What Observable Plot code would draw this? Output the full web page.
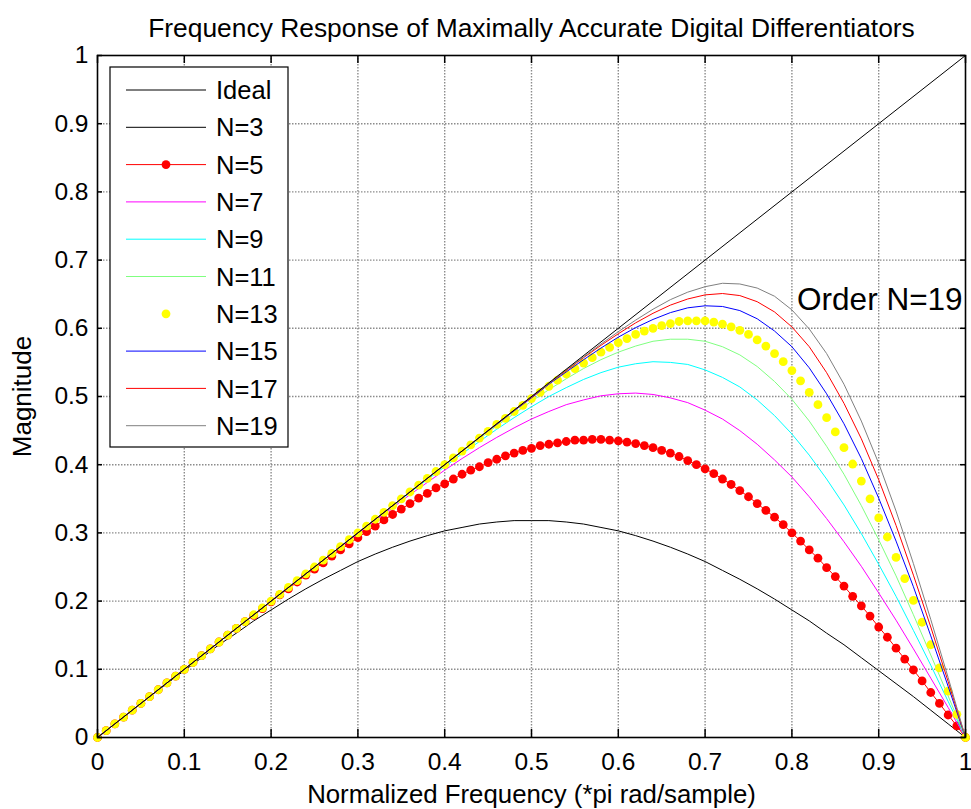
<!DOCTYPE html>
<html>
<head>
<meta charset="utf-8">
<script src="https://cdn.jsdelivr.net/npm/d3@7"></script>
<script src="https://cdn.jsdelivr.net/npm/@observablehq/plot@0.6"></script>
<style>
  body { margin: 0; background: #fff; }
  #chart svg { display: block; }
</style>
</head>
<body>
<div id="chart"></div>
<script>
// Frequency grids (normalized frequency, *pi rad/sample)
const freqFine = [0,0.01,0.02,0.03,0.04,0.05,0.06,0.07,0.08,0.09,
  0.10,0.11,0.12,0.13,0.14,0.15,0.16,0.17,0.18,0.19,
  0.20,0.21,0.22,0.23,0.24,0.25,0.26,0.27,0.28,0.29,
  0.30,0.31,0.32,0.33,0.34,0.35,0.36,0.37,0.38,0.39,
  0.40,0.41,0.42,0.43,0.44,0.45,0.46,0.47,0.48,0.49,
  0.50,0.51,0.52,0.53,0.54,0.55,0.56,0.57,0.58,0.59,
  0.60,0.61,0.62,0.63,0.64,0.65,0.66,0.67,0.68,0.69,
  0.70,0.71,0.72,0.73,0.74,0.75,0.76,0.77,0.78,0.79,
  0.80,0.81,0.82,0.83,0.84,0.85,0.86,0.87,0.88,0.89,
  0.90,0.91,0.92,0.93,0.94,0.95,0.96,0.97,0.98,0.99,1.00];
const freqCoarse = [0,0.02,0.04,0.06,0.08,0.10,0.12,0.14,0.16,0.18,
  0.20,0.22,0.24,0.26,0.28,0.30,0.32,0.34,0.36,0.38,
  0.40,0.42,0.44,0.46,0.48,0.50,0.52,0.54,0.56,0.58,
  0.60,0.62,0.64,0.66,0.68,0.70,0.72,0.74,0.76,0.78,
  0.80,0.82,0.84,0.86,0.88,0.90,0.92,0.94,0.96,0.98,1.00];
const freqIdeal = [0, 1];

// Magnitude responses
const magIdeal = [0, 1];
const magN3 = [0,0.020,0.040,0.060,0.079,0.098,0.117,0.136,0.153,0.171,
  0.187,0.203,0.218,0.232,0.245,0.258,0.269,0.279,0.288,0.296,
  0.303,0.308,0.313,0.316,0.318,0.318,0.318,0.316,0.313,0.308,
  0.303,0.296,0.288,0.279,0.269,0.258,0.245,0.232,0.218,0.203,
  0.187,0.171,0.153,0.136,0.117,0.098,0.079,0.060,0.040,0.020,0];
const magN5 = [0,0.010,0.020,0.030,0.040,0.050,0.060,0.070,0.080,0.090,
  0.100,0.110,0.120,0.130,0.140,0.150,0.160,0.170,0.179,0.189,
  0.199,0.209,0.218,0.228,0.238,0.247,0.256,0.266,0.275,0.284,
  0.293,0.302,0.310,0.319,0.327,0.335,0.343,0.351,0.358,0.366,
  0.372,0.379,0.386,0.392,0.397,0.403,0.408,0.413,0.417,0.421,
  0.424,0.428,0.430,0.432,0.434,0.436,0.436,0.437,0.437,0.436,
  0.435,0.433,0.431,0.428,0.425,0.421,0.417,0.412,0.406,0.400,
  0.394,0.387,0.379,0.371,0.362,0.353,0.343,0.333,0.323,0.312,
  0.300,0.288,0.275,0.263,0.249,0.236,0.222,0.207,0.193,0.178,
  0.162,0.147,0.131,0.115,0.099,0.083,0.066,0.050,0.033,0.017,0];
const magN7 = [0,0.02,0.04,0.06,0.08,0.10,0.12,0.14,0.16,0.18,
  0.20,0.22,0.24,0.26,0.279,0.299,0.318,0.337,0.356,0.374,
  0.392,0.409,0.425,0.440,0.454,0.467,0.478,0.488,0.495,0.501,
  0.504,0.505,0.503,0.498,0.491,0.480,0.467,0.450,0.430,0.407,
  0.382,0.353,0.321,0.287,0.251,0.212,0.172,0.130,0.087,0.044,0];
const magN9 = [0,0.02,0.04,0.06,0.08,0.10,0.12,0.14,0.16,0.18,
  0.20,0.22,0.24,0.26,0.280,0.300,0.320,0.339,0.359,0.378,
  0.397,0.416,0.434,0.452,0.469,0.485,0.500,0.513,0.525,0.535,
  0.543,0.548,0.551,0.550,0.547,0.539,0.528,0.514,0.495,0.472,
  0.445,0.414,0.379,0.341,0.299,0.254,0.207,0.157,0.106,0.053,0];
const magN11 = [0,0.02,0.04,0.06,0.08,0.10,0.12,0.14,0.16,0.18,
  0.20,0.22,0.24,0.26,0.28,0.30,0.32,0.34,0.36,0.380,
  0.399,0.419,0.438,0.457,0.475,0.493,0.510,0.526,0.541,0.554,
  0.565,0.574,0.581,0.584,0.584,0.581,0.573,0.561,0.544,0.522,
  0.496,0.464,0.427,0.386,0.340,0.290,0.237,0.180,0.121,0.061,0];
const magN13 = [0,0.01,0.02,0.03,0.04,0.05,0.06,0.07,0.08,0.09,
  0.10,0.11,0.12,0.13,0.14,0.15,0.16,0.17,0.18,0.19,
  0.20,0.21,0.22,0.23,0.24,0.25,0.26,0.27,0.28,0.29,
  0.30,0.31,0.32,0.33,0.34,0.35,0.360,0.370,0.380,0.390,
  0.400,0.410,0.420,0.429,0.439,0.449,0.459,0.468,0.478,0.487,
  0.497,0.506,0.515,0.524,0.533,0.541,0.549,0.557,0.565,0.572,
  0.579,0.585,0.591,0.596,0.600,0.604,0.607,0.610,0.611,0.611,
  0.611,0.609,0.606,0.602,0.597,0.591,0.583,0.574,0.563,0.551,
  0.538,0.523,0.506,0.488,0.469,0.448,0.425,0.401,0.376,0.350,
  0.322,0.294,0.264,0.233,0.201,0.169,0.136,0.102,0.068,0.034,0];
const magN15 = [0,0.02,0.04,0.06,0.08,0.10,0.12,0.14,0.16,0.18,
  0.20,0.22,0.24,0.26,0.28,0.30,0.32,0.34,0.36,0.38,
  0.400,0.420,0.440,0.459,0.479,0.498,0.518,0.536,0.554,0.571,
  0.587,0.601,0.613,0.623,0.630,0.633,0.632,0.626,0.614,0.596,
  0.573,0.542,0.504,0.460,0.409,0.351,0.288,0.221,0.149,0.075,0];
const magN17 = [0,0.02,0.04,0.06,0.08,0.10,0.12,0.14,0.16,0.18,
  0.20,0.22,0.24,0.26,0.28,0.30,0.32,0.34,0.36,0.38,
  0.400,0.420,0.440,0.460,0.480,0.499,0.519,0.538,0.557,0.575,
  0.592,0.608,0.622,0.634,0.643,0.649,0.651,0.648,0.639,0.624,
  0.602,0.573,0.535,0.490,0.438,0.378,0.311,0.238,0.162,0.082,0];
const magN19 = [0,0.02,0.04,0.06,0.08,0.10,0.12,0.14,0.16,0.18,
  0.20,0.22,0.24,0.26,0.28,0.30,0.32,0.34,0.36,0.38,
  0.400,0.420,0.440,0.460,0.480,0.500,0.519,0.539,0.558,0.577,
  0.595,0.612,0.628,0.642,0.653,0.661,0.666,0.665,0.659,0.647,
  0.627,0.599,0.563,0.518,0.464,0.402,0.332,0.255,0.173,0.088,0];

// Axis ticks and labels
const xTicks = [0,0.1,0.2,0.3,0.4,0.5,0.6,0.7,0.8,0.9,1];
const yTicks = [0,0.1,0.2,0.3,0.4,0.5,0.6,0.7,0.8,0.9,1];
const xTickLabels = ["0","0.1","0.2","0.3","0.4","0.5","0.6","0.7","0.8","0.9","1"];
const yTickLabels = ["0","0.1","0.2","0.3","0.4","0.5","0.6","0.7","0.8","0.9","1"];

// Texts
const titleText = "Frequency Response of Maximally Accurate Digital Differentiators";
const xLabelText = "Normalized Frequency (*pi rad/sample)";
const yLabelText = "Magnitude";
const annotation = [{freq: 0.806, mag: 0.641, label: "Order N=19"}];

// Series styling, in drawing order
const legendNames = ["Ideal","N=3","N=5","N=7","N=9","N=11","N=13","N=15","N=17","N=19"];
const seriesColors = {
  "Ideal": "#000000", "N=3": "#000000", "N=5": "#ff0000", "N=7": "#ff00ff",
  "N=9": "#00ffff", "N=11": "#80ff80", "N=13": "#ffff00", "N=15": "#0000ff",
  "N=17": "#ff0000", "N=19": "#808080"
};

const rows = (xs, ys) => xs.map((x, i) => ({x, y: ys[i]}));

const W = 971, H = 809, mL = 97, mR = 6, mT = 55, mB = 72;
const innerW = W - mL - mR, innerH = H - mT - mB;
const font = "'Liberation Sans', Arial, Helvetica, sans-serif";

const line = (xs, ys, name) =>
  Plot.line(rows(xs, ys), {x: "x", y: "y", stroke: seriesColors[name], strokeWidth: 1});
const dots = (xs, ys, name) =>
  Plot.dot(rows(xs, ys), {x: "x", y: "y", r: 4.4, fill: seriesColors[name], stroke: "none"});

const gridStyle = {stroke: "#8c8c8c", strokeOpacity: 1, strokeWidth: 1.4, strokeDasharray: "1.5,1.5"};

const chart = Plot.plot({
  width: W, height: H,
  marginLeft: mL, marginRight: mR, marginTop: mT, marginBottom: mB,
  style: {fontFamily: font, background: "#ffffff", color: "#000", overflow: "visible"},
  x: {domain: [0, 1]},
  y: {domain: [0, 1]},
  marks: [
    Plot.gridX(xTicks.slice(1, -1), gridStyle),
    Plot.gridY(yTicks.slice(1, -1), gridStyle),

    line(freqCoarse, magN3, "N=3"),
    line(freqFine, magN5, "N=5"),
    dots(freqFine, magN5, "N=5"),
    line(freqCoarse, magN7, "N=7"),
    line(freqCoarse, magN9, "N=9"),
    line(freqCoarse, magN11, "N=11"),
    dots(freqFine, magN13, "N=13"),
    line(freqCoarse, magN15, "N=15"),
    line(freqCoarse, magN17, "N=17"),
    line(freqCoarse, magN19, "N=19"),
    line(freqIdeal, magIdeal, "Ideal"),

    Plot.frame({stroke: "#000", strokeWidth: 1.6}),

    // inward tick marks on all four sides
    Plot.ruleX(xTicks, {stroke: "#000", strokeWidth: 1.5, insetTop: innerH - 8}),
    Plot.ruleX(xTicks, {stroke: "#000", strokeWidth: 1.5, insetBottom: innerH - 8}),
    Plot.ruleY(yTicks, {stroke: "#000", strokeWidth: 1.5, insetRight: innerW - 5}),
    Plot.ruleY(yTicks, {stroke: "#000", strokeWidth: 1.5, insetLeft: innerW - 5}),

    Plot.axisX(xTicks, {
      tickSize: 0, tickPadding: 15, fontSize: 24.5, label: null,
      tickFormat: d => xTickLabels[xTicks.indexOf(d)]
    }),
    Plot.axisY(yTicks, {
      tickSize: 0, tickPadding: 9, fontSize: 24.5, label: null,
      tickFormat: d => yTickLabels[yTicks.indexOf(d)]
    }),

    Plot.text(annotation, {x: "freq", y: "mag", text: "label", textAnchor: "start", fontSize: 31.5, fill: "#000"}),

    Plot.text([titleText], {frameAnchor: "top", lineAnchor: "middle", textAnchor: "middle", dy: -27, fontSize: 26.4, fill: "#000"}),
    Plot.text([xLabelText], {frameAnchor: "bottom", lineAnchor: "middle", textAnchor: "middle", dy: 57, fontSize: 25.8, fill: "#000"}),
    Plot.text([yLabelText], {frameAnchor: "left", lineAnchor: "middle", textAnchor: "middle", rotate: -90, dx: -75, fontSize: 26, fill: "#000"})
  ]
});

// Legend box in the upper-left corner of the axes
const svg = d3.select(chart);
const legend = svg.append("g")
  .attr("font-family", font).attr("font-size", 25.5).attr("fill", "#000")
  .attr("text-anchor", "start");
legend.append("rect")
  .attr("x", 110).attr("y", 67).attr("width", 178).attr("height", 380)
  .attr("fill", "#fff").attr("stroke", "#000").attr("stroke-width", 1.2);
legendNames.forEach((name, i) => {
  const cy = 90 + i * 37.3;
  const color = seriesColors[name];
  if (name !== "N=13") {
    legend.append("line")
      .attr("x1", 126).attr("x2", 206).attr("y1", cy).attr("y2", cy)
      .attr("stroke", color).attr("stroke-width", 1);
  }
  if (name === "N=5" || name === "N=13") {
    legend.append("circle").attr("cx", 166).attr("cy", cy).attr("r", 4.4).attr("fill", color);
  }
  legend.append("text")
    .attr("x", 216).attr("y", cy).attr("dy", "0.36em")
    .attr("text-anchor", "start").text(name);
});

document.getElementById("chart").appendChild(chart);
</script>
</body>
</html>
